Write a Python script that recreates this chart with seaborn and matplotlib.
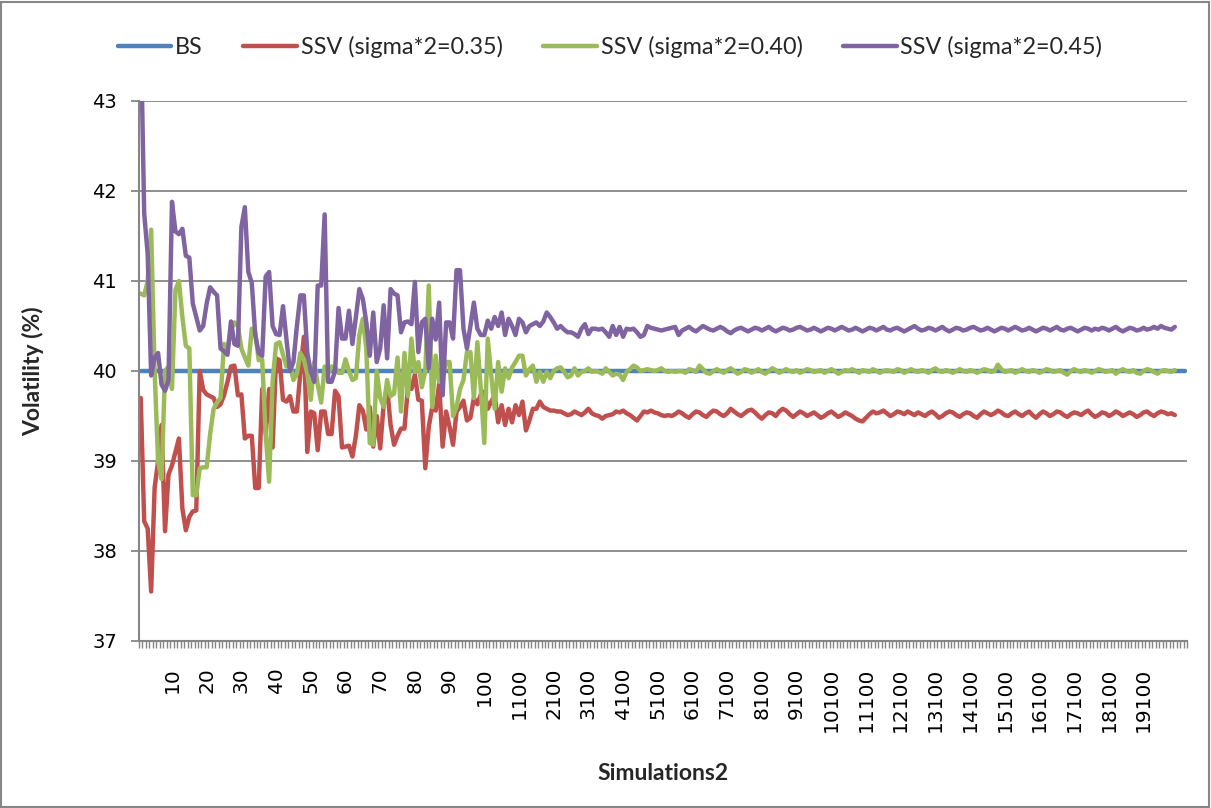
import numpy as np
import pandas as pd
import matplotlib
matplotlib.use("Agg")
import matplotlib.pyplot as plt
from matplotlib.patches import Rectangle
from matplotlib.lines import Line2D
import seaborn as sns

# ---------------- data ----------------
categories = [str(v) for v in list(range(1, 101)) + list(range(200, 20001, 100))]
extra_blank = ["", "", ""]  # BS series runs three rows past the labelled categories

bs = [40.0] * (len(categories) + len(extra_blank))

ssv_035 = [
    39.7, 38.33, 38.25, 37.55, 38.7, 39.0, 39.4, 38.22, 38.85, 38.95,
    39.1, 39.25, 38.47, 38.23, 38.38, 38.44, 38.45, 40.0, 39.79, 39.74,
    39.72, 39.7, 39.6, 39.63, 39.73, 39.88, 40.05, 40.06, 39.73, 39.74,
    39.25, 39.28, 39.28, 38.7, 38.7, 39.8, 39.3, 39.8, 39.15, 40.14,
    40.12, 39.68, 39.66, 39.72, 39.55, 39.55, 39.98, 40.38, 39.1, 39.55,
    39.53, 39.12, 39.55, 39.55, 39.3, 39.3, 39.78, 39.72, 39.15, 39.16,
    39.17, 39.05, 39.28, 39.62, 39.56, 39.35, 39.6, 39.16, 39.5, 39.14,
    39.63, 39.82, 39.4, 39.18, 39.28, 39.36, 39.36, 39.82, 39.8, 39.96,
    39.68, 39.67, 38.92, 39.38, 39.6, 39.56, 39.86, 39.16, 39.55, 39.38,
    39.18, 39.55, 39.6, 39.67, 39.45, 39.48, 39.7, 39.63, 39.74, 39.77,
    39.58, 39.66, 39.73, 39.43, 39.62, 39.4, 39.58, 39.43, 39.62, 39.51,
    39.66, 39.34, 39.45, 39.58, 39.58, 39.66, 39.6, 39.58, 39.56, 39.56,
    39.55, 39.55, 39.53, 39.51, 39.52, 39.55, 39.53, 39.51, 39.54, 39.58,
    39.53, 39.51, 39.5, 39.47, 39.5, 39.51, 39.52, 39.55, 39.54, 39.56,
    39.53, 39.51, 39.48, 39.45, 39.5, 39.55, 39.54, 39.56, 39.54, 39.53,
    39.51, 39.5, 39.51, 39.5, 39.52, 39.55,
    39.53, 39.50, 39.48, 39.52, 39.55, 39.54, 39.51, 39.49, 39.53, 39.56,
    39.55, 39.52, 39.50, 39.53, 39.58, 39.55, 39.52, 39.50, 39.53, 39.56,
    39.57, 39.54, 39.50, 39.47, 39.51, 39.54, 39.53, 39.50, 39.55, 39.58,
    39.56, 39.52, 39.49, 39.52, 39.55, 39.53, 39.50, 39.52, 39.54, 39.51,
    39.48, 39.50, 39.53, 39.55, 39.52, 39.49, 39.51, 39.54, 39.52, 39.50,
    39.47, 39.45, 39.44, 39.48, 39.52, 39.55, 39.53, 39.54, 39.56, 39.53,
    39.50, 39.52, 39.55, 39.54, 39.52, 39.55, 39.53, 39.51, 39.54, 39.52,
    39.50, 39.53, 39.55, 39.52, 39.48, 39.50, 39.53, 39.55, 39.54, 39.51,
    39.49, 39.52, 39.54, 39.53, 39.50, 39.48, 39.52, 39.55, 39.53, 39.51,
    39.53, 39.56, 39.54, 39.51, 39.50, 39.53, 39.55, 39.52, 39.50, 39.53,
    39.55, 39.51, 39.48, 39.52, 39.55, 39.53, 39.50, 39.52, 39.55, 39.54,
    39.51, 39.49, 39.52, 39.54, 39.53, 39.51, 39.54, 39.56, 39.52, 39.49,
    39.51, 39.54, 39.53, 39.50, 39.52, 39.55, 39.53, 39.50, 39.52, 39.54,
    39.52, 39.49, 39.51, 39.54, 39.55, 39.52, 39.50, 39.53, 39.55, 39.54,
    39.52, 39.53, 39.51,
]

ssv_040 = [
    40.86, 40.84, 41.0, 41.57, 40.0, 39.0, 38.8, 40.0, 40.05, 39.8,
    40.9, 41.0, 40.6, 40.28, 40.25, 38.62, 38.62, 38.92, 38.93, 38.93,
    39.3, 39.58, 39.65, 39.7, 40.3, 40.25, 40.45, 40.54, 40.5, 40.25,
    40.15, 40.06, 40.47, 40.43, 40.12, 40.13, 39.3, 38.77, 39.88, 40.3,
    40.32, 40.18, 40.05, 40.08, 39.9, 39.97, 40.2, 40.13, 39.97, 39.68,
    40.1, 39.85, 39.65, 40.05, 39.97, 40.05, 40.04, 39.98, 39.98, 40.13,
    40.0, 39.9, 39.92, 40.4, 40.58, 40.25, 39.2, 39.18, 40.0, 39.7,
    39.6, 39.9, 39.72, 39.75, 40.15, 39.55, 40.2, 39.72, 40.36, 39.99,
    40.1, 39.82, 40.0, 40.95, 39.6, 40.17, 39.88, 39.93, 40.1, 40.1,
    39.5, 39.6, 39.8, 39.9, 40.21, 40.21, 39.7, 40.32, 39.8, 39.2,
    40.36, 39.95, 39.58, 40.1, 39.77, 40.03, 39.92, 40.04, 40.1, 40.17,
    40.17, 39.95, 40.02, 40.06, 39.88, 39.99, 39.88, 39.99, 39.92, 40.0,
    40.03, 40.04, 39.99, 39.93, 39.95, 40.03, 39.95, 39.99, 40.0, 40.03,
    39.99, 40.0, 39.99, 39.97, 40.03, 39.99, 39.95, 39.97, 39.96, 39.9,
    39.99, 40.02, 40.06, 40.04, 40.0, 40.01, 40.02, 40.01, 40.0, 40.01,
    40.03, 40.0, 39.99, 40.0, 39.99, 40.0,
    40.00, 39.98, 40.02, 40.01, 39.99, 40.06, 40.02, 39.98, 39.97, 40.00,
    40.02, 40.00, 39.98, 40.01, 40.03, 40.00, 39.97, 39.99, 40.02, 40.01,
    39.98, 40.00, 40.02, 39.99, 39.97, 40.00, 40.03, 40.01, 39.98, 40.00,
    40.02, 40.00, 39.99, 40.01, 39.98, 40.00, 40.02, 40.01, 39.99, 40.00,
    40.01, 39.98, 40.00, 40.02, 40.00, 39.97, 39.99, 40.01, 40.00, 40.02,
    40.00, 39.98, 40.01, 40.00, 39.99, 40.02, 40.00, 39.98, 40.00, 40.01,
    40.00, 39.99, 40.02, 40.01, 39.98, 40.00, 40.02, 40.00, 39.99, 40.01,
    40.00, 39.98, 40.01, 40.03, 40.00, 39.99, 40.01, 40.00, 39.98, 40.00,
    40.02, 40.00, 39.99, 40.01, 40.00, 39.98, 40.00, 40.02, 40.01, 39.99,
    40.00, 40.07, 40.02, 39.99, 40.00, 40.01, 39.98, 40.00, 40.02, 40.00,
    39.99, 40.01, 40.00, 39.98, 40.00, 40.02, 40.01, 39.99, 40.00, 40.01,
    39.98, 39.96, 40.00, 40.02, 40.00, 39.99, 40.01, 40.00, 39.98, 40.00,
    40.02, 40.01, 39.99, 40.00, 40.01, 39.97, 40.00, 40.02, 40.00, 39.99,
    40.01, 39.98, 39.97, 40.00, 40.02, 40.01, 39.99, 39.97, 40.00, 40.01,
    40.00, 39.99, 40.01,
]

ssv_045 = [
    43.8, 41.75, 41.3, 39.95, 40.15, 40.2, 39.85, 39.78, 39.9, 41.88,
    41.55, 41.52, 41.58, 41.28, 41.26, 40.75, 40.6, 40.45, 40.5, 40.75,
    40.93, 40.88, 40.84, 40.25, 40.22, 40.18, 40.55, 40.3, 40.28, 41.6,
    41.82, 41.1, 40.98, 40.4, 40.2, 40.17, 41.05, 41.1, 40.5, 40.41,
    40.4, 40.72, 40.35, 40.0, 40.1, 40.5, 40.84, 40.84, 40.2, 39.99,
    39.88, 40.95, 40.95, 41.74, 39.88, 39.88, 40.0, 40.7, 40.36, 40.36,
    40.67, 40.3, 40.6, 40.91, 40.8, 40.54, 40.17, 40.65, 40.1, 40.25,
    40.73, 40.14, 40.91, 40.86, 40.84, 40.43, 40.54, 40.55, 40.52, 40.99,
    40.21, 40.54, 40.58, 40.03, 40.58, 40.35, 40.76, 39.73, 40.54, 40.54,
    40.36, 41.12, 41.12, 40.47, 40.25, 40.5, 40.76, 40.47, 40.4, 40.4,
    40.56, 40.47, 40.6, 40.5, 40.65, 40.4, 40.58, 40.5, 40.4, 40.58,
    40.54, 40.43, 40.5, 40.52, 40.54, 40.5, 40.55, 40.65, 40.6, 40.54,
    40.47, 40.5, 40.46, 40.43, 40.43, 40.41, 40.38, 40.47, 40.52, 40.41,
    40.47, 40.47, 40.46, 40.47, 40.43, 40.38, 40.5, 40.4, 40.49, 40.38,
    40.47, 40.46, 40.47, 40.43, 40.38, 40.4, 40.5, 40.48, 40.47, 40.46,
    40.45, 40.46, 40.47, 40.48, 40.49, 40.4,
    40.45, 40.47, 40.49, 40.46, 40.44, 40.47, 40.50, 40.48, 40.46, 40.45,
    40.47, 40.49, 40.47, 40.44, 40.42, 40.45, 40.47, 40.48, 40.46, 40.44,
    40.46, 40.48, 40.47, 40.45, 40.47, 40.49, 40.46, 40.44, 40.46, 40.48,
    40.47, 40.45, 40.46, 40.48, 40.49, 40.47, 40.45, 40.46, 40.48, 40.46,
    40.44, 40.46, 40.48, 40.47, 40.45, 40.47, 40.49, 40.47, 40.45, 40.46,
    40.48, 40.46, 40.44, 40.46, 40.48, 40.47, 40.45, 40.47, 40.49, 40.46,
    40.45, 40.47, 40.48, 40.46, 40.44, 40.46, 40.48, 40.50, 40.47, 40.45,
    40.46, 40.48, 40.47, 40.45, 40.47, 40.49, 40.46, 40.44, 40.46, 40.48,
    40.47, 40.45, 40.46, 40.48, 40.49, 40.47, 40.45, 40.46, 40.48, 40.46,
    40.44, 40.46, 40.48, 40.47, 40.45, 40.47, 40.49, 40.47, 40.45, 40.46,
    40.48, 40.46, 40.44, 40.46, 40.48, 40.47, 40.45, 40.47, 40.49, 40.46,
    40.45, 40.47, 40.48, 40.46, 40.44, 40.46, 40.48, 40.47, 40.45, 40.47,
    40.46, 40.48, 40.47, 40.45, 40.47, 40.49, 40.46, 40.44, 40.46, 40.48,
    40.47, 40.45, 40.46, 40.48, 40.46, 40.47, 40.49, 40.47, 40.50, 40.48,
    40.47, 40.46, 40.49,
]

series_names = ["BS", "SSV (sigma*2=0.35)", "SSV (sigma*2=0.40)", "SSV (sigma*2=0.45)"]
series_colors = ["#4F81BD", "#C0504D", "#9BBB59", "#8064A2"]
y_ticks = [37, 38, 39, 40, 41, 42, 43]

all_labels = categories + extra_blank
n_all = len(all_labels)

# ---------------- style ----------------
sns.set_theme(style="white")
plt.rcParams["font.family"] = ["DejaVu Sans"]
GRID = "#868686"
TITLE_FONT = ["Lato", "DejaVu Sans"]

fig = plt.figure(figsize=(12.11, 8.08), dpi=100)
ax = fig.add_axes([139 / 1211, 1 - 641 / 808, (1187 - 139) / 1211, (641 - 101) / 808])

rows = []
for name, vals in zip(series_names, [bs, ssv_035, ssv_040, ssv_045]):
    for i, v in enumerate(vals):
        rows.append({"pos": i, "value": v, "series": name})
df = pd.DataFrame(rows)

for name, col in zip(series_names, series_colors):
    sub = df[df["series"] == name]
    sns.lineplot(data=sub, x="pos", y="value", color=col, lw=3.2, ax=ax,
                 legend=False, estimator=None, sort=False, solid_capstyle="round",
                 solid_joinstyle="round")

ax.set_xlim(-0.5, n_all - 0.5)
ax.set_ylim(37, 43)
ax.set_yticks(y_ticks)
ax.set_yticklabels([str(t) for t in y_ticks], fontsize=14, color="black")
ax.yaxis.grid(True, color=GRID, lw=1.3)
ax.xaxis.grid(False)
ax.set_axisbelow(True)

label_pos = list(range(9, len(categories), 10))
ax.set_xticks(label_pos)
ax.set_xticklabels([categories[p] for p in label_pos], rotation=90, fontsize=14.5,
                   color="black", va="top", ha="center")
ax.set_xticks(np.arange(n_all + 1) - 0.5, minor=True)
ax.tick_params(axis="x", which="major", length=0, pad=19)
ax.tick_params(axis="x", which="minor", length=5, width=1.0, color=GRID, direction="out", bottom=True)
ax.tick_params(axis="y", which="major", length=6, width=1.3, color=GRID, direction="out", left=True, pad=10)

for s in ["top", "right"]:
    ax.spines[s].set_visible(False)
for s in ["left", "bottom"]:
    ax.spines[s].set_color(GRID)
    ax.spines[s].set_linewidth(1.5)

ax.set_xlabel("Simulations2", fontsize=16.5, fontweight="bold", family=TITLE_FONT)
ax.set_ylabel("Volatility (%)", fontsize=16.5, fontweight="bold", family=TITLE_FONT)
ax.xaxis.set_label_coords(0.5, -(763 - 641) / 540, transform=ax.transAxes)
ax.yaxis.set_label_coords(-(139 - 44) / 1048, 0.5, transform=ax.transAxes)

handles = [Line2D([0], [0], color=c, lw=3.2, solid_capstyle="round") for c in series_colors]
fig.legend(handles, series_names, loc="center", bbox_to_anchor=(610 / 1211, 1 - 47 / 808),
           ncol=4, frameon=False, handlelength=2.3, handletextpad=0.15, columnspacing=1.75,
           prop={"family": TITLE_FONT, "size": 16.8})

fig.patches.append(Rectangle((0.001, 0.001), 0.997, 0.997, transform=fig.transFigure,
                             fill=False, edgecolor=GRID, lw=1.5))

fig.savefig("out.png", dpi=100, facecolor="white")
